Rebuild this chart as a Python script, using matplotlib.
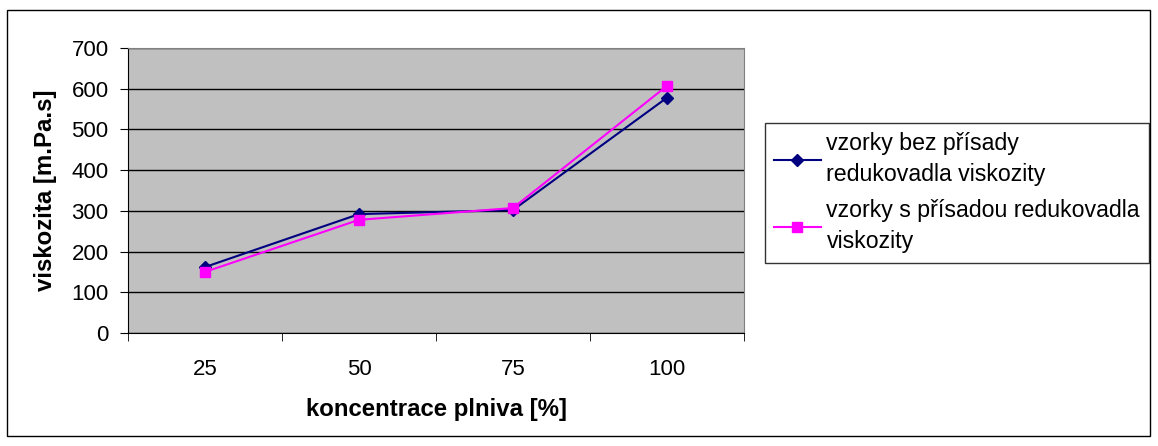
import numpy as np
import matplotlib.pyplot as plt
from matplotlib.patches import Rectangle

plt.rcParams['font.family'] = ['Liberation Sans', 'DejaVu Sans']

# concentration of filler and measured viscosity
koncentrace = ["25", "50", "75", "100"]
bez_prisady = [162, 292, 302, 578]
s_prisadou = [150, 278, 307, 607]

fig = plt.figure(figsize=(11.58, 4.46), dpi=100)
W, H = 1158, 446
ax = fig.add_axes([128 / W, (H - 333) / H, (744 - 128) / W, (333 - 48) / H])
ax.set_facecolor('#c0c0c0')

x = np.arange(len(koncentrace))
ax.plot(x, bez_prisady, color='#000080', marker='D', markersize=6.5, lw=1.5,
        label='vzorky bez přísady\nredukovadla viskozity', zorder=3)
ax.plot(x, s_prisadou, color='#ff00ff', marker='s', markersize=7, lw=1.5,
        label='vzorky s přísadou redukovadla\nviskozity', zorder=4)

ax.set_xlim(-0.5, len(koncentrace) - 0.5)
ax.set_ylim(0, 700)
ax.set_yticks(range(0, 701, 100))
ax.yaxis.grid(True, color='black', lw=1)
ax.set_axisbelow(True)
ax.set_xticks(x)
ax.set_xticklabels(koncentrace)
ax.set_xticks(np.arange(-0.5, len(koncentrace)), minor=True)
ax.tick_params(axis='x', which='major', length=0, pad=19, labelsize=16)
ax.tick_params(axis='x', which='minor', length=6, color='black')
ax.tick_params(axis='y', length=6, pad=8, labelsize=16, color='black')
for s in ['top', 'right']:
    ax.spines[s].set_color('#808080')
for s in ['left', 'bottom']:
    ax.spines[s].set_color('black')

ax.set_ylabel('viskozita [m.Pa.s]', fontsize=17.3, fontweight='bold', labelpad=10)
ax.set_xlabel('koncentrace plniva [%]', fontsize=17.3, fontweight='bold', labelpad=13)

leg = fig.legend(loc='upper left', bbox_to_anchor=(765 / W, 1 - 123 / H),
                 fontsize=16.7, frameon=True, fancybox=False, edgecolor='black',
                 handlelength=2.0, handletextpad=0.25, labelspacing=0.55,
                 borderpad=0.4, borderaxespad=0)
leg.get_frame().set_linewidth(1)
for t in leg.get_texts():
    t.set_linespacing(1.45)

# outer border of the chart
fig.patches.append(Rectangle((7 / W, 10 / H), (1150 - 7) / W, (436 - 10) / H,
                             transform=fig.transFigure, fill=False,
                             edgecolor='black', lw=1))

fig.savefig('out.png', dpi=100)
